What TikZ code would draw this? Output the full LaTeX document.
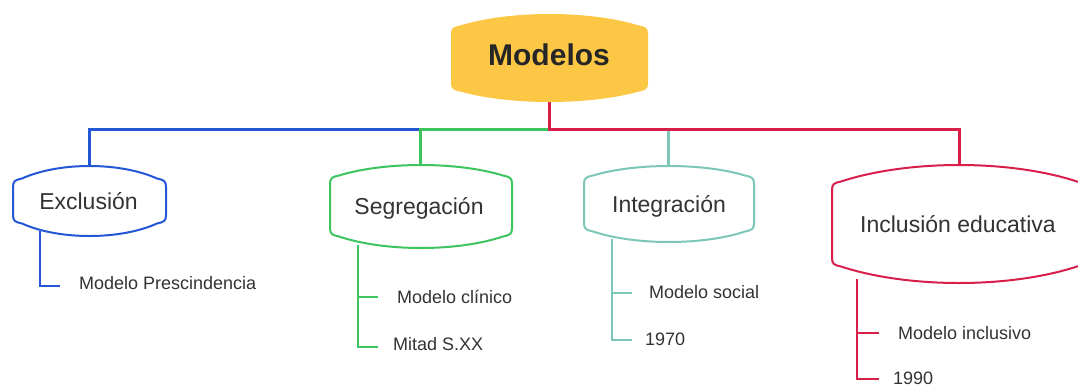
\documentclass[tikz,border=0pt]{standalone}
\usepackage{fontspec}
\setmainfont{Liberation Sans}
\definecolor{cblue}{RGB}{36,87,214}
\definecolor{cgreen}{RGB}{62,196,94}
\definecolor{cteal}{RGB}{124,199,183}
\definecolor{cred}{RGB}{216,31,74}
\definecolor{cyellow}{RGB}{251,199,69}
\definecolor{ctext}{RGB}{51,51,51}
\newcommand{\capsuleshape}[7]{%
  \path[#7] (#1,{#3+7}) .. controls (#1,{#3+1}) and ({#1+2},{#3}) .. ({#1+9},{#3-1.5})
   .. controls ({#1+0.3*(#2-#1)},{#3-1.5-(#3-1.5-#4)/0.75}) and ({#2-0.3*(#2-#1)},{#3-1.5-(#3-1.5-#4)/0.75}) .. ({#2-9},{#3-1.5})
   .. controls ({#2-2},{#3}) and (#2,{#3+1}) .. (#2,{#3+7})
   -- (#2,{#5-7}) .. controls (#2,{#5-1}) and ({#2-2},{#5}) .. ({#2-9},{#5+1.5})
   .. controls ({#2-0.3*(#2-#1)},{#5+1.5+(#6-#5-1.5)/0.75}) and ({#1+0.3*(#2-#1)},{#5+1.5+(#6-#5-1.5)/0.75}) .. ({#1+9},{#5+1.5})
   .. controls ({#1+2},{#5}) and (#1,{#5-1}) .. (#1,{#5-7}) -- cycle;}
\tikzset{
  boxtext/.style={inner sep=0pt, anchor=base, text=ctext, font=\fontsize{23}{27}\selectfont},
  subtext/.style={inner sep=0pt, anchor=base west, text=ctext, font=\fontsize{18}{21}\selectfont},
  mainline/.style={line width=3pt},
  subline/.style={line width=2pt},
  boxline/.style={line width=2pt, fill=white},
}
\begin{document}
\begin{tikzpicture}[x=1pt,y=-1pt]
\useasboundingbox (0,0) rectangle (1078,386);
\clip (0,0) rectangle (1078,386);
\fill[white] (0,0) rectangle (1078,386);
% coordinates
\coordinate (bus) at (0,129);
\coordinate (mb) at (549,101);
\coordinate (exclTop) at (89,167);
\coordinate (segTop) at (420,166);
\coordinate (integTop) at (668,167);
\coordinate (inclTop) at (959,166);
% main connectors
\draw[mainline, cblue] (segTop |- bus) -| (exclTop);
\draw[mainline, cgreen] (mb |- bus) -| (segTop);
\draw[mainline, cred] (mb) -- (mb |- bus) -| (inclTop);
\draw[mainline, cteal] ([yshift=-1.5pt]integTop |- bus) -- (integTop);
% boxes
\capsuleshape{451}{648}{27}{14}{90}{102}{fill=cyellow}
\capsuleshape{13}{166}{180}{166}{222}{236}{boxline, draw=cblue}
\capsuleshape{330}{512}{177}{165}{235}{248}{boxline, draw=cgreen}
\capsuleshape{584}{754}{177}{166}{230}{242}{boxline, draw=cteal}
\capsuleshape{832}{1086}{183}{165}{265}{283}{boxline, draw=cred}
% labels
\node[boxtext, text=black!85, font=\bfseries\fontsize{30}{34}\selectfont] (modelos) at (549,65) {Modelos};
\node[boxtext] (excl) at (88.5,209) {Exclusión};
\node[boxtext] (seg) at (419,214) {Segregación};
\node[boxtext] (integ) at (669,212) {Integración};
\node[boxtext] (incl) at (958,232) {Inclusión educativa};
% sub items
\node[subtext] (pres) at (79,289) {Modelo Prescindencia};
\node[subtext] (clin) at (397,303) {Modelo clínico};
\node[subtext] (mitad) at (393,350) {Mitad S.XX};
\node[subtext] (social) at (649,298) {Modelo social};
\node[subtext] (y1970) at (645,345) {1970};
\node[subtext] (inclus) at (898,339) {Modelo inclusivo};
\node[subtext] (y1990) at (893,384) {1990};
% sub connectors
\coordinate (exclSub) at (40,231);
\coordinate (e1) at (60,286);
\draw[subline, cblue] (exclSub) |- (e1);
\coordinate (segSub) at (358,245);
\coordinate (s1) at (378,297);
\coordinate (s2) at (378,347);
\draw[subline, cgreen] (segSub) |- (s2);
\draw[subline, cgreen] (segSub |- s1) -- (s1);
\coordinate (intSub) at (612,239);
\coordinate (i1) at (632,293);
\coordinate (i2) at (632,340);
\draw[subline, cteal] (intSub) |- (i2);
\draw[subline, cteal] (intSub |- i1) -- (i1);
\coordinate (incSub) at (857,279);
\coordinate (n1) at (879,333);
\coordinate (n2) at (879,379);
\draw[subline, cred] (incSub) |- (n2);
\draw[subline, cred] (incSub |- n1) -- (n1);
\end{tikzpicture}
\end{document}
